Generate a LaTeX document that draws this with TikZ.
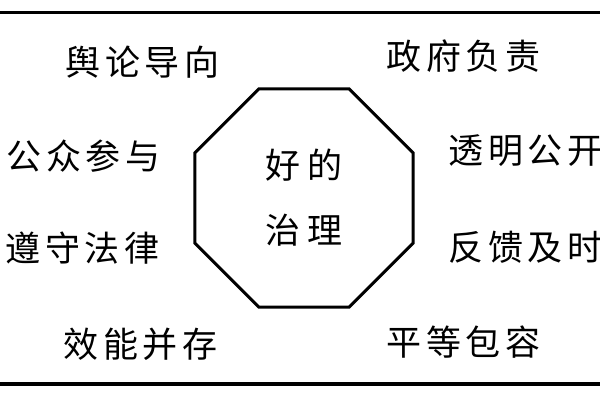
\documentclass[tikz,border=0pt]{standalone}
\usepackage{fontspec}
\newfontfamily\cjk[LetterSpace=14]{Noto Sans CJK SC}
\newfontfamily\cjkwide[LetterSpace=20]{Noto Sans CJK SC}
\usetikzlibrary{shapes.geometric}

\begin{document}
\begin{tikzpicture}[x=1pt, y=-1pt,
  lbl/.style={font=\cjk\fontsize{35pt}{40pt}\selectfont, inner sep=0pt, anchor=west},
  oct/.style={draw, line width=3pt, regular polygon, regular polygon sides=8, minimum size=236pt, inner sep=0pt, align=center, font=\cjkwide\fontsize{35pt}{65pt}\selectfont}]
  \useasboundingbox (0,0) rectangle (600,400);
  \draw[line width=3pt] (0,12.5) -- (600,12.5);
  \draw[line width=4pt] (0,383.5) -- (600,383.5);
  \node[oct] (good) at (304,198) {好的\\治理};
  \node[lbl] (l1) at (65,62) {舆论导向};
  \node[lbl] (l2) at (6,156) {公众参与};
  \node[lbl] (l3) at (5,248) {遵守法律};
  \node[lbl] (l4) at (63,344) {效能并存};
  \node[lbl] (r1) at (386,56) {政府负责};
  \node[lbl] (r2) at (448,151) {透明公开};
  \node[lbl] (r3) at (448,247) {反馈及时};
  \node[lbl] (r4) at (386,342) {平等包容};
\end{tikzpicture}
\end{document}
